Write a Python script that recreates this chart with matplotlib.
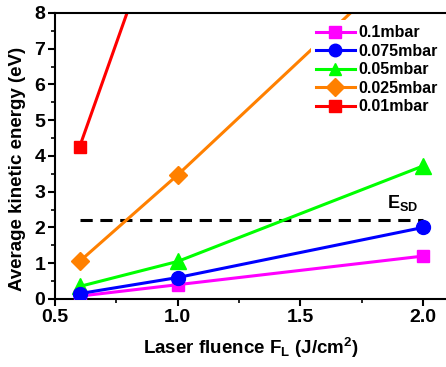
import matplotlib
matplotlib.use("Agg")
import matplotlib.pyplot as plt
from matplotlib.ticker import MultipleLocator

plt.rcParams['font.family'] = ['Liberation Sans', 'DejaVu Sans']
plt.rcParams['font.weight'] = 'bold'
plt.rcParams['axes.labelweight'] = 'bold'
plt.rcParams['mathtext.fontset'] = 'custom'
plt.rcParams['mathtext.rm'] = 'Liberation Sans:bold'
plt.rcParams['mathtext.it'] = 'Liberation Sans:bold'
plt.rcParams['mathtext.bf'] = 'Liberation Sans:bold'

fluence = [0.6, 1.0, 2.0]
labels = ['0.1mbar', '0.075mbar', '0.05mbar', '0.025mbar', '0.01mbar']
e_01 = [0.08, 0.40, 1.20]
e_0075 = [0.15, 0.60, 2.00]
e_005 = [0.35, 1.05, 3.72]
e_0025 = [1.05, 3.47, 9.9]
e_001 = [4.25, 12.0, 30.0]
series = [e_01, e_0075, e_005, e_0025, e_001]
colors = ['#FF00FF', '#0000FF', '#00FF00', '#FF8000', '#FF0000']
markers = ['s', 'o', '^', 'D', 's']
msizes = [9, 10, 11, 9.5, 9]
zorders = [4, 5, 3, 2, 2]
e_sd = 2.2
esd_x = [0.6, 2.0]

fig = plt.figure(figsize=(4.46, 3.67), dpi=100)
ax = fig.add_axes([0.1233, 0.1853, 0.8767, 0.7793])

for ys, c, m, ms, lab, z in zip(series, colors, markers, msizes, labels, zorders):
    ax.plot(fluence, ys, color=c, marker=m, markersize=ms, lw=2.2,
            label=lab, zorder=z, clip_on=True)

ax.plot(esd_x, [e_sd, e_sd], color='black', lw=2.2, ls=(0, (4, 2.5)), zorder=1)
ax.text(1.852, 2.69, r'E$_\mathregular{SD}$', fontsize=13, ha='left', va='center')

ax.set_xlim(0.5, 2.094)
ax.set_ylim(0, 8)
ax.xaxis.set_major_locator(MultipleLocator(0.5))
ax.xaxis.set_minor_locator(MultipleLocator(0.25))
ax.yaxis.set_major_locator(MultipleLocator(1))
ax.yaxis.set_minor_locator(MultipleLocator(0.5))
ax.set_xticks([0.5, 1.0, 1.5, 2.0])
ax.set_xticklabels(['0.5', '1.0', '1.5', '2.0'])
ax.tick_params(which='major', direction='out', length=5, width=1.5, labelsize=14, pad=2)
ax.tick_params(which='minor', direction='out', length=3, width=1.2)
for s in ['left', 'bottom', 'top']:
    ax.spines[s].set_linewidth(1.5)
ax.spines['right'].set_visible(False)

ax.set_xlabel(r'Laser fluence F$_\mathregular{L}$ (J/cm$^\mathregular{2}$)', fontsize=13.5)
ax.set_ylabel('Average kinetic energy (eV)', fontsize=13.5)
ax.xaxis.set_label_coords(0.5, -0.171)
ax.yaxis.set_label_coords(-0.096, 0.456)
ax.xaxis.label.set_va('center')
ax.yaxis.label.set_va('center')

leg = ax.legend(loc='upper right', bbox_to_anchor=(1.0, 0.985), fontsize=11.5,
                frameon=True, fancybox=False, edgecolor='none', facecolor='white',
                framealpha=1, handlelength=2.5, handletextpad=0.2, labelspacing=0.22,
                borderpad=0.3, borderaxespad=0.2)
for h in leg.legend_handles:
    h.set_markersize(9)

fig.savefig('out.png', dpi=100)
